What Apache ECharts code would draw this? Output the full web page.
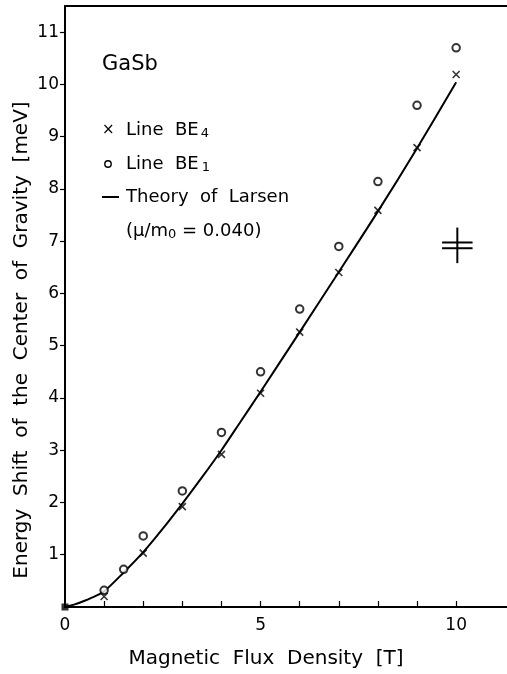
<!DOCTYPE html>
<html>
<head>
<meta charset="utf-8">
<script src="https://cdn.jsdelivr.net/npm/echarts@6/dist/echarts.min.js"></script>
<style>
html,body{margin:0;padding:0;background:#fff;}
#main{width:507px;height:674px;}
</style>
</head>
<body>
<div id="main"></div>
<script>
// Line BE4 (crosses)
var be4X = [1, 2, 3, 4, 5, 6, 7, 8, 9, 10];
var be4Y = [0.2, 1.03, 1.92, 2.92, 4.09, 5.26, 6.4, 7.59, 8.79, 10.19];
// Line BE1 (circles)
var be1X = [1, 1.5, 2, 3, 4, 5, 6, 7, 8, 9, 10];
var be1Y = [0.32, 0.72, 1.36, 2.22, 3.34, 4.5, 5.7, 6.9, 8.14, 9.6, 10.7];
// theory of Larsen
var theoX = [0, 0.25, 0.5, 0.75, 1, 1.5, 2, 2.5, 3, 3.5, 4, 4.5, 5, 6, 7, 8, 9, 10];
var theoY = [0, 0.05, 0.12, 0.2, 0.3, 0.66, 1.05, 1.5, 1.98, 2.48, 3.0, 3.56, 4.12, 5.26, 6.41, 7.57, 8.78, 10.04];
// origin point
var originPt = [[0, 0]];
// error bar symbol: x, y, half height, half width, gap
var errBar = [[10.03, 6.92, 0.34, 0.39, 0.11]];

var xTicks = [1, 2, 3, 4, 5, 6, 7, 8, 9, 10];
var xLabels = [0, 5, 10];
var yTicks = [1, 2, 3, 4, 5, 6, 7, 8, 9, 10, 11];
var yLabels = [1, 2, 3, 4, 5, 6, 7, 8, 9, 10, 11];

function pairs(xs, ys){
	var out = [];
	for(var i=0;i<xs.length;i++){
		out.push([xs[i], ys[i]]);
	}
	return out;
}

var font = 'DejaVu Sans';
var myChart = echarts.init(document.getElementById('main'));

var option = {
	backgroundColor: '#fff',
	animation: false,
	grid: { left: 65, right: 0, top: 6, bottom: 67 },
	xAxis: [
		{
			type: 'value', min: 0, max: 11.3,
			axisLine: { lineStyle: { color: '#000', width: 2 } },
			axisTick: { inside: true, length: 6, lineStyle: { color: '#000', width: 1.2 }, customValues: xTicks },
			axisLabel: { margin: 10, color: '#000', fontSize: 17, fontFamily: font, customValues: xLabels },
			splitLine: { show: false },
			name: 'Magnetic  Flux  Density  [T]',
			nameLocation: 'middle',
			nameGap: 42,
			nameTextStyle: { color: '#000', fontSize: 20, fontFamily: font, padding: [0, 40, 0, 0] }
		},
		{
			type: 'value', position: 'top', min: 0, max: 11.3,
			axisLine: { show: true, lineStyle: { color: '#000', width: 2 } },
			axisTick: { show: false }, axisLabel: { show: false }, splitLine: { show: false }
		}
	],
	yAxis: {
		type: 'value', min: 0, max: 11.5,
		axisLine: { lineStyle: { color: '#000', width: 2 } },
		axisTick: { inside: false, length: 5, lineStyle: { color: '#000', width: 1.2 }, customValues: yTicks },
		axisLabel: { margin: 6, color: '#000', fontSize: 17, fontFamily: font, customValues: yLabels },
		splitLine: { show: false }
	},
	graphic: [
		{ type: 'text', x: 22, y: 340, rotation: Math.PI / 2,
		  style: { text: 'Energy  Shift  of  the  Center  of  Gravity  [meV]', fill: '#000', font: '20px ' + font, align: 'center', verticalAlign: 'middle' } },
		{ type: 'text', x: 102, y: 65, style: { text: 'GaSb', fill: '#000', font: '21px ' + font, verticalAlign: 'middle' } },
		{ type: 'text', x: 102, y: 130, style: { text: '×', fill: '#000', font: '15px ' + font, verticalAlign: 'middle' } },
		{ type: 'text', x: 126, y: 130, style: {
			text: '{a|Line  BE}{s|4}', verticalAlign: 'middle',
			rich: { a: { fill: '#000', font: '18px ' + font }, s: { fill: '#000', font: '13px ' + font, padding: [8, 0, 0, 2] } } } },
		{ type: 'circle', shape: { cx: 108, cy: 164, r: 3.2 }, style: { fill: 'none', stroke: '#000', lineWidth: 1.4 } },
		{ type: 'text', x: 126, y: 164, style: {
			text: '{a|Line  BE}{s|1}', verticalAlign: 'middle',
			rich: { a: { fill: '#000', font: '18px ' + font }, s: { fill: '#000', font: '13px ' + font, padding: [8, 0, 0, 3] } } } },
		{ type: 'line', shape: { x1: 102, y1: 197, x2: 119, y2: 197 }, style: { stroke: '#000', lineWidth: 2 } },
		{ type: 'text', x: 126, y: 197, style: { text: 'Theory  of  Larsen', fill: '#000', font: '18px ' + font, verticalAlign: 'middle' } },
		{ type: 'text', x: 126, y: 231, style: {
			text: '{a|(μ/m}{s|0}{a| = 0.040)}', verticalAlign: 'middle',
			rich: { a: { fill: '#000', font: '18px ' + font }, s: { fill: '#000', font: '13px ' + font, padding: [8, 0, 0, 0] } } } }
	],
	series: [
		{
			name: 'Theory of Larsen', type: 'line', data: pairs(theoX, theoY),
			smooth: 0.3, showSymbol: false, lineStyle: { color: '#000', width: 2 }, z: 2
		},
		{
			name: 'Line BE4', type: 'scatter', data: pairs(be4X, be4Y),
			symbol: 'path://M0,0L10,10M10,0L0,10', symbolSize: 7,
			itemStyle: { color: 'rgba(0,0,0,0)', borderColor: '#000', borderWidth: 1.6 }, z: 3
		},
		{
			name: 'Line BE1', type: 'scatter', data: pairs(be1X, be1Y),
			symbol: 'emptyCircle', symbolSize: 7.5,
			itemStyle: { color: '#000', borderColor: '#000', borderWidth: 1.6 }, z: 3
		},
		{
			name: 'origin', type: 'scatter', data: originPt,
			symbol: 'rect', symbolSize: 7, itemStyle: { color: '#000' }, z: 4
		},
		{
			name: 'error', type: 'custom', data: errBar, z: 3,
			renderItem: function(params, api){
				var x = api.value(0), y = api.value(1), hh = api.value(2), hw = api.value(3), g = api.value(4);
				var top = api.coord([x, y + hh]), bot = api.coord([x, y - hh]);
				var l1 = api.coord([x - hw, y + g / 2]), r1 = api.coord([x + hw, y + g / 2]);
				var l2 = api.coord([x - hw, y - g / 2]), r2 = api.coord([x + hw, y - g / 2]);
				var st = { stroke: '#000', lineWidth: 2 };
				return {
					type: 'group',
					children: [
						{ type: 'line', shape: { x1: top[0], y1: top[1], x2: bot[0], y2: bot[1] }, style: st },
						{ type: 'line', shape: { x1: l1[0], y1: l1[1], x2: r1[0], y2: r1[1] }, style: st },
						{ type: 'line', shape: { x1: l2[0], y1: l2[1], x2: r2[0], y2: r2[1] }, style: st }
					]
				};
			}
		}
	]
};
myChart.setOption(option);
</script>
</body>
</html>
